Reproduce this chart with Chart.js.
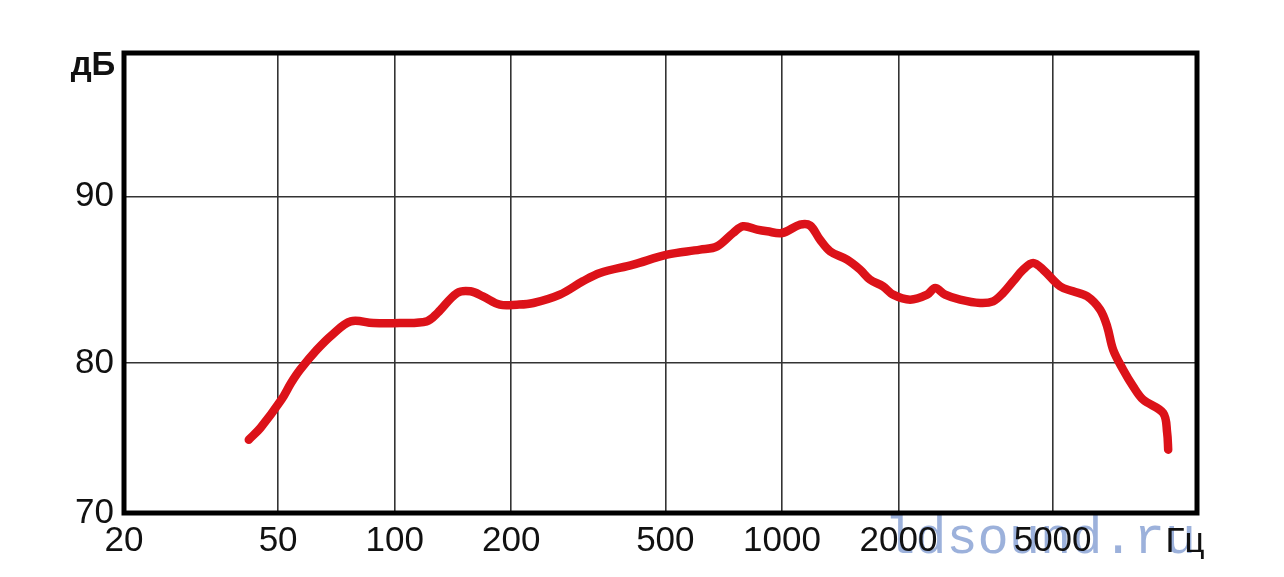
<!DOCTYPE html>
<html>
<head>
<meta charset="utf-8">
<title>АЧХ</title>
<script src="https://cdn.jsdelivr.net/npm/chart.js@4/dist/chart.umd.min.js"></script>
<style>
    html, body { margin: 0; padding: 0; background: #fff; }
    #wrap { width: 1284px; height: 577px; }
</style>
</head>
<body>
<div id="wrap"><canvas id="freq-chart"></canvas></div>
<script>
// Frequency response (Hz / dB)
const freqHz = [42, 45, 51, 54, 57, 63, 69, 77, 88, 103, 121, 129, 145, 157, 169, 187, 207, 228, 267, 306,
    339, 413, 505, 615, 680, 748, 794, 863, 916, 1001, 1114, 1182, 1254, 1332, 1473, 1592, 1689, 1825, 1937, 2143,
    2371, 2487, 2639, 2885, 3249, 3510, 3726, 3954, 4197, 4454, 4727, 5230, 5648, 6140, 6632, 6915, 7166, 7606, 8072, 8566,
    9650, 9882, 9942];
const levelDb = [75.4, 76.1, 77.8, 78.8, 79.6, 80.8, 81.7, 82.5, 82.4, 82.4, 82.5, 83.0, 84.2, 84.3, 84.0, 83.5, 83.5, 83.6, 84.1, 84.9,
    85.4, 85.9, 86.5, 86.8, 87.0, 87.8, 88.2, 88.0, 87.9, 87.8, 88.3, 88.25, 87.4, 86.7, 86.2, 85.6, 85.0, 84.6, 84.1, 83.8,
    84.1, 84.5, 84.1, 83.8, 83.6, 83.7, 84.2, 84.9, 85.6, 86.0, 85.6, 84.6, 84.3, 84.0, 83.2, 82.2, 80.8, 79.6, 78.6, 77.8,
    77.0, 75.8, 74.8];

const xTicks = [20, 50, 100, 200, 500, 1000, 2000, 5000];
const yTicks = [71, 80, 90];
const yTickLabels = ['70', '80', '90'];

const textFont = '"Liberation Sans", Arial, sans-serif';

// thick frame + unit labels + watermark
const framePlugin = {
    id: 'frame',
    beforeDraw(chart) {
        const ctx = chart.ctx;
        ctx.save();
        ctx.fillStyle = 'rgba(90, 125, 195, 0.6)';
        ctx.font = '52px "Liberation Mono", "DejaVu Sans Mono", monospace';
        ctx.textBaseline = 'alphabetic';
        ctx.fillText('ldsound.ru', 884, 553);
        ctx.restore();
    },
    afterDraw(chart) {
        const a = chart.chartArea;
        const ctx = chart.ctx;
        ctx.save();
        ctx.strokeStyle = '#000';
        ctx.lineWidth = 5;
        ctx.strokeRect(a.left, a.top, a.right - a.left, a.bottom - a.top);

        ctx.fillStyle = '#111';
        ctx.textAlign = 'center';
        ctx.textBaseline = 'middle';
        ctx.font = 'bold 33px ' + textFont;
        ctx.fillText('дБ', 93, 66);
        ctx.font = '35px ' + textFont;
        ctx.fillText('Гц', 1185, 542);
        ctx.restore();
    }
};

const ctx = document.getElementById('freq-chart').getContext('2d');
new Chart(ctx, {
    type: 'line',
    data: {
        datasets: [{
            data: freqHz.map((f, i) => ({ x: f, y: levelDb[i] })),
            borderColor: '#dc1219',
            borderWidth: 8.5,
            borderCapStyle: 'round',
            borderJoinStyle: 'round',
            tension: 0.35,
            pointRadius: 0,
            fill: false
        }]
    },
    options: {
        responsive: true,
        maintainAspectRatio: false,
        animation: false,
        layout: { padding: { top: 53, right: 87, bottom: 0, left: 0 } },
        plugins: {
            legend: { display: false },
            tooltip: { enabled: false }
        },
        scales: {
            x: {
                type: 'logarithmic',
                min: 20,
                max: 11800,
                afterBuildTicks: scale => { scale.ticks = xTicks.map(v => ({ value: v })); },
                afterFit: scale => { scale.height = 64; },
                ticks: {
                    autoSkip: false,
                    maxRotation: 0,
                    padding: 7,
                    color: '#111',
                    font: { family: textFont, size: 35 },
                    callback: v => String(v)
                },
                grid: { color: '#333', lineWidth: 1.6, drawTicks: false },
                border: { display: false }
            },
            y: {
                min: 71,
                max: 98.6,
                afterBuildTicks: scale => { scale.ticks = yTicks.map(v => ({ value: v })); },
                afterFit: scale => { scale.width = 124; },
                ticks: {
                    padding: 10,
                    color: '#111',
                    font: { family: textFont, size: 35 },
                    callback: v => yTickLabels[yTicks.indexOf(v)]
                },
                grid: { color: '#333', lineWidth: 1.6, drawTicks: false },
                border: { display: false }
            }
        }
    },
    plugins: [framePlugin]
});
</script>
</body>
</html>
